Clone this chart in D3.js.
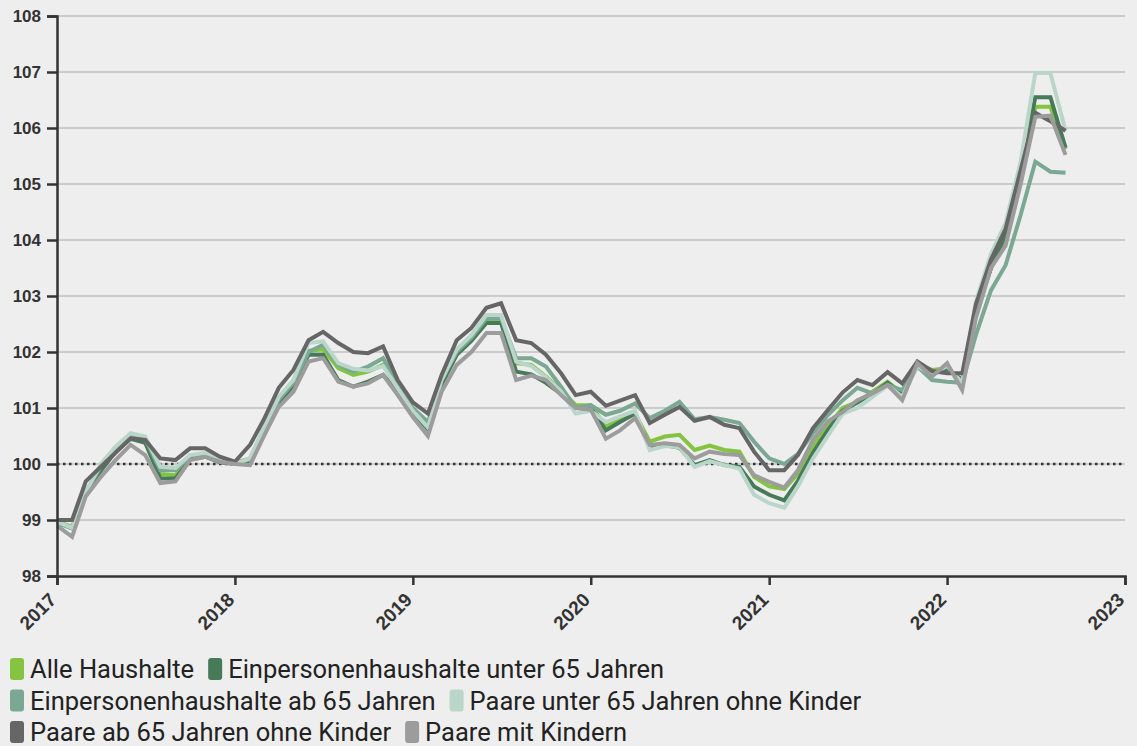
<!DOCTYPE html>
<html>
<head>
<meta charset="utf-8">
<script src="https://cdn.jsdelivr.net/npm/d3@7"></script>
<style>
  body { margin: 0; background: #eeeeee; }
  svg { display: block; font-family: Roboto, "Noto Sans", sans-serif; }
</style>
</head>
<body>
<div id="chart"></div>
<script>
// Data: monthly index values, Jan 2017 - Sep 2022
const startMonth = "2017-01";
const yTicks = [98, 99, 100, 101, 102, 103, 104, 105, 106, 107, 108];
const seriesNames = [
  "Alle Haushalte",
  "Einpersonenhaushalte unter 65 Jahren",
  "Einpersonenhaushalte ab 65 Jahren",
  "Paare unter 65 Jahren ohne Kinder",
  "Paare ab 65 Jahren ohne Kinder",
  "Paare mit Kindern"
];
const alleHaushalte = [
  98.97, 98.88, 99.5, 99.9, 100.25, 100.47, 100.4, 99.82, 99.8, 100.1, 100.15, 100.05,
  100.02, 100.1, 100.6, 101.14, 101.44, 102.02, 102.05, 101.71, 101.59, 101.65, 101.77, 101.36,
  100.96, 100.7, 101.5, 102.0, 102.25, 102.55, 102.57, 101.8, 101.77, 101.56, 101.32, 101.05,
  101.05, 100.67, 100.79, 100.9, 100.4, 100.49, 100.52, 100.25, 100.33, 100.25, 100.22, 99.77,
  99.6, 99.55, 99.83, 100.31, 100.67, 101.0, 101.11, 101.29, 101.47, 101.26, 101.77, 101.68,
  101.71, 101.5, 102.7, 103.5, 104.0, 105.1, 106.38, 106.38, 105.62
];
const einUnter65 = [
  98.97, 98.85, 99.48, 99.88, 100.22, 100.45, 100.38, 99.74, 99.74, 100.08, 100.13, 100.03,
  100.0, 100.05, 100.55, 101.1, 101.4, 101.95, 101.95, 101.5, 101.38, 101.47, 101.59, 101.3,
  100.92, 100.62, 101.42, 101.95, 102.2, 102.52, 102.52, 101.65, 101.6, 101.45, 101.25, 101.0,
  101.0, 100.6, 100.75, 100.9, 100.29, 100.34, 100.29, 99.98, 100.07, 99.98, 99.95, 99.6,
  99.45, 99.35, 99.7, 100.2, 100.6, 100.95, 101.1, 101.25, 101.45, 101.25, 101.75, 101.6,
  101.7, 101.5, 102.7, 103.5, 104.1, 105.2, 106.55, 106.55, 105.65
];
const einAb65 = [
  98.95, 98.85, 99.5, 99.95, 100.28, 100.5, 100.45, 99.89, 99.89, 100.15, 100.18, 100.05,
  100.02, 100.08, 100.6, 101.15, 101.45, 102.0, 102.13, 101.77, 101.65, 101.74, 101.89, 101.44,
  101.0, 100.75, 101.5, 102.0, 102.25, 102.6, 102.6, 101.89, 101.89, 101.74, 101.38, 101.0,
  101.05, 100.88, 100.95, 101.08, 100.82, 100.95, 101.11, 100.8, 100.84, 100.79, 100.73, 100.4,
  100.1, 100.0, 100.18, 100.55, 100.87, 101.14, 101.36, 101.26, 101.41, 101.32, 101.74, 101.5,
  101.47, 101.45, 102.3, 103.1, 103.55, 104.45, 105.4, 105.22, 105.2
];
const paareUnter65 = [
  98.97, 98.86, 99.5, 100.0, 100.31, 100.55, 100.49, 99.95, 99.93, 100.16, 100.2, 100.07,
  100.0, 100.1, 100.65, 101.2, 101.5, 102.16, 102.19, 101.8, 101.7, 101.67, 101.75, 101.35,
  100.95, 100.65, 101.5, 102.05, 102.3, 102.66, 102.66, 101.83, 101.75, 101.55, 101.3, 100.9,
  100.95, 100.75, 100.85, 100.95, 100.25, 100.32, 100.3, 99.95, 100.05, 99.98, 99.92, 99.45,
  99.3, 99.22, 99.6, 100.1, 100.5, 100.9, 101.0, 101.2, 101.4, 101.2, 101.75, 101.6,
  101.75, 101.45, 102.9, 103.75, 104.3, 105.4, 106.98, 106.98, 105.95
];
const paareAb65 = [
  99.0, 99.0, 99.69, 99.95, 100.2, 100.46, 100.43, 100.1, 100.07, 100.28, 100.28, 100.13,
  100.04, 100.34, 100.79, 101.36, 101.68, 102.21, 102.36, 102.16, 102.0, 101.98, 102.1, 101.5,
  101.1, 100.9, 101.59, 102.21, 102.43, 102.79, 102.87, 102.21, 102.16, 101.95, 101.62, 101.23,
  101.29, 101.04, 101.13, 101.23, 100.73, 100.88, 101.02, 100.77, 100.84, 100.7, 100.64, 100.22,
  99.89, 99.89, 100.16, 100.64, 100.96, 101.28, 101.5, 101.41, 101.64, 101.44, 101.83, 101.66,
  101.62, 101.62, 102.85, 103.65, 104.2, 105.25, 106.27, 106.12, 105.95
];
const paareMitKindern = [
  98.9, 98.7, 99.42, 99.77, 100.07, 100.34, 100.16, 99.66, 99.69, 100.07, 100.13, 100.04,
  100.0, 99.98, 100.49, 101.02, 101.29, 101.83, 101.89, 101.47, 101.38, 101.44, 101.59, 101.23,
  100.84, 100.5, 101.29, 101.77, 102.0, 102.34, 102.34, 101.5, 101.58, 101.5, 101.23, 101.0,
  100.97, 100.45, 100.6, 100.82, 100.34, 100.37, 100.34, 100.1, 100.22, 100.18, 100.16, 99.8,
  99.68, 99.58, 99.89, 100.43, 100.76, 100.93, 101.14, 101.26, 101.41, 101.14, 101.8, 101.56,
  101.8, 101.32, 102.6, 103.5, 103.9, 105.0, 106.2, 106.22, 105.52
];
const colors = ["#84c441", "#467a58", "#7ba893", "#bad6cb", "#666666", "#9c9c9c"];

const allValues = [alleHaushalte, einUnter65, einAb65, paareUnter65, paareAb65, paareMitKindern];
const start = d3.timeParse("%Y-%m")(startMonth);
const series = seriesNames.map((name, i) => ({
  name: name,
  color: colors[i],
  values: allValues[i].map((v, j) => ({ date: d3.timeMonth.offset(start, j), value: v }))
}));

// Dimensions
const W = 1137, H = 746;
const margin = { top: 16, right: 12, left: 57, bottom: 170 };
const plotH = H - margin.top - margin.bottom;

const svg = d3.select("#chart").append("svg")
  .attr("width", W)
  .attr("height", H);

const x = d3.scaleTime()
  .domain([new Date(2017, 0, 1), new Date(2023, 0, 1)])
  .range([margin.left, W - margin.right]);

const y = d3.scaleLinear()
  .domain([98, 108])
  .range([margin.top + plotH, margin.top]);

// Grid
svg.append("g")
  .selectAll("line")
  .data(yTicks.filter(d => d !== 98))
  .enter().append("line")
  .attr("x1", x.range()[0])
  .attr("x2", x.range()[1])
  .attr("y1", d => y(d))
  .attr("y2", d => y(d))
  .attr("stroke", "#cccccc")
  .attr("stroke-width", 2);

// Reference line at 100
svg.append("line")
  .attr("x1", x.range()[0])
  .attr("x2", x.range()[1])
  .attr("y1", y(100))
  .attr("y2", y(100))
  .attr("stroke", "#333")
  .attr("stroke-width", 2.5)
  .attr("stroke-dasharray", "2.5,3.5");

// Lines
const line = d3.line()
  .x(d => x(d.date))
  .y(d => y(d.value));

svg.append("g")
  .selectAll("path")
  .data(series)
  .enter().append("path")
  .attr("d", d => line(d.values))
  .attr("fill", "none")
  .attr("stroke", d => d.color)
  .attr("stroke-width", 4)
  .attr("stroke-linejoin", "miter");

// Axes
const yAxis = svg.append("g")
  .attr("transform", `translate(${margin.left},0)`)
  .call(d3.axisLeft(y).tickValues(yTicks).tickSize(10).tickPadding(6).tickFormat(d3.format("d")));

const xAxis = svg.append("g")
  .attr("transform", `translate(0,${margin.top + plotH})`)
  .call(d3.axisBottom(x).ticks(d3.timeYear.every(1)).tickSize(9).tickFormat(d3.timeFormat("%Y")));

[yAxis, xAxis].forEach(g => {
  g.select(".domain").attr("stroke", "#333").attr("stroke-width", 2.5);
  g.selectAll(".tick line").attr("stroke", "#333").attr("stroke-width", 2.5);
  g.selectAll(".tick text")
    .attr("fill", "#333")
    .style("font-size", "17px")
    .style("font-weight", "bold");
});

xAxis.selectAll(".tick text")
  .style("font-size", "19px")
  .attr("text-anchor", "end")
  .attr("dy", null)
  .attr("y", 0)
  .attr("transform", "translate(0,25) rotate(-45)");

// Legend
const legend = svg.append("g").attr("class", "legend");
let lx = 10, ly = 669;
const rowH = 31.5, maxW = 1100;
series.forEach(s => {
  const item = legend.append("g");
  item.append("rect")
    .attr("y", -11)
    .attr("width", 14)
    .attr("height", 22)
    .attr("rx", 3)
    .attr("fill", s.color);
  const t = item.append("text")
    .attr("x", 20)
    .attr("y", 0)
    .attr("dy", "0.36em")
    .attr("fill", "#222")
    .style("font-size", "25.5px")
    .text(s.name);
  const w = 20 + t.node().getComputedTextLength() + 14;
  if (lx + w > maxW && lx > 10) {
    lx = 10;
    ly += rowH;
  }
  item.attr("transform", `translate(${lx},${ly})`);
  lx += w;
});
</script>
</body>
</html>
